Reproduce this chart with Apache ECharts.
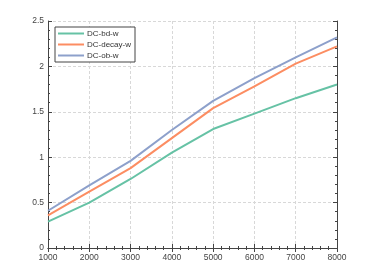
<!DOCTYPE html>
<html><head><meta charset="utf-8">
<script src="https://cdn.jsdelivr.net/npm/echarts@6/dist/echarts.min.js"></script>
<style>html,body{margin:0;padding:0;background:#fff;}#c{width:372px;height:279px;}</style>
</head><body><div id="c"></div>
<script>
var xValues = [1000, 2000, 3000, 4000, 5000, 6000, 7000, 8000];
var bdW = [0.29, 0.50, 0.76, 1.05, 1.31, 1.48, 1.65, 1.80];
var decayW = [0.36, 0.62, 0.88, 1.21, 1.54, 1.78, 2.03, 2.22];
var obW = [0.41, 0.69, 0.96, 1.30, 1.62, 1.87, 2.10, 2.32];
var seriesNames = ['DC-bd-w', 'DC-decay-w', 'DC-ob-w'];
var colors = ['#66c2a5', '#fc8d62', '#8da0cb'];

function pairs(arr){ return xValues.map(function(x,i){ return [x, arr[i]]; }); }
var font = 'Liberation Sans, Arial, sans-serif';
var axisLine = {show:true, lineStyle:{color:'#444', width:1}};
var tick = {show:true, inside:true, length:4, lineStyle:{color:'#444'}};
var minor = {show:true, splitNumber:5, length:2, lineStyle:{color:'#444'}};
var split = {show:true, lineStyle:{color:'#d8d8d8', type:[3,2], width:1}};
var label = {color:'#444', fontSize:8.5, fontFamily:font};

var chart = echarts.init(document.getElementById('c'));
chart.setOption({
  animation:false,
  backgroundColor:'#fff',
  grid:{left:48, right:35, top:21, bottom:31},
  legend:{
    orient:'vertical', left:55, top:27,
    data: seriesNames,
    icon:'rect', itemWidth:26, itemHeight:2, itemGap:0,
    padding:[1,4,1,3],
    borderColor:'#444', borderWidth:1, backgroundColor:'#fff',
    textStyle:{fontSize:8, fontFamily:font, color:'#333', lineHeight:11, padding:[0,0,0,-2]}
  },
  xAxis:[
    {type:'value', min:1000, max:8000, interval:1000, position:'bottom',
     axisLine:axisLine, axisTick:tick, minorTick:minor, splitLine:split,
     axisLabel:Object.assign({margin:5, formatter:function(v){ return String(v); }}, label)},
    {type:'value', min:1000, max:8000, interval:1000, position:'top',
     axisLine:axisLine, axisTick:tick, minorTick:minor, splitLine:{show:false},
     axisLabel:{show:false}}
  ],
  yAxis:[
    {type:'value', min:0, max:2.5, interval:0.5, position:'left',
     axisLine:axisLine, axisTick:tick, minorTick:minor, splitLine:split,
     axisLabel:Object.assign({margin:4}, label)},
    {type:'value', min:0, max:2.5, interval:0.5, position:'right',
     axisLine:axisLine, axisTick:tick, minorTick:minor, splitLine:{show:false},
     axisLabel:{show:false}}
  ],
  series:[
    {name:seriesNames[0], type:'line', data:pairs(bdW), showSymbol:false, symbol:'none', color:colors[0], lineStyle:{width:2}},
    {name:seriesNames[1], type:'line', data:pairs(decayW), showSymbol:false, symbol:'none', color:colors[1], lineStyle:{width:2}},
    {name:seriesNames[2], type:'line', data:pairs(obW), showSymbol:false, symbol:'none', color:colors[2], lineStyle:{width:2}}
  ]
});
</script></body></html>
